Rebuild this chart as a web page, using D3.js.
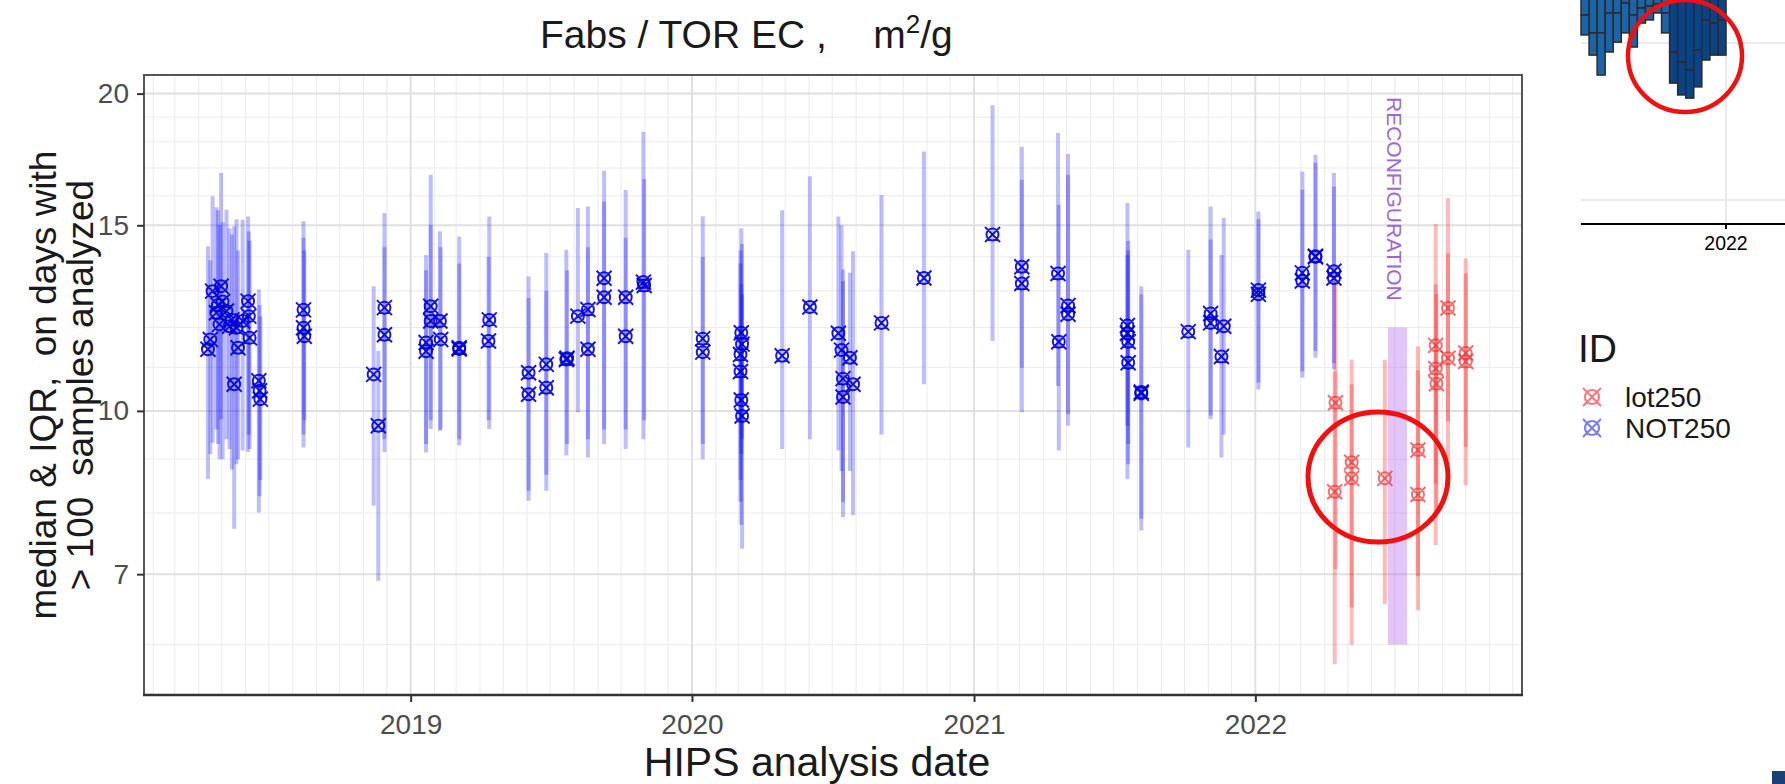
<!DOCTYPE html>
<html>
<head>
<meta charset="utf-8">
<script src="https://cdn.jsdelivr.net/npm/d3@7"></script>
<style>
  body { margin: 0; background: #fff; }
  text { font-family: "Liberation Sans", Arial, sans-serif; white-space: pre; }
</style>
</head>
<body>
<div id="chart"></div>
<script>
// NOT250 series: day, median, lower and upper quartile
var notDates = ["2018-04-13","2018-04-16","2018-04-19","2018-04-24","2018-04-26","2018-04-28","2018-04-30","2018-05-02",
  "2018-05-07","2018-05-11","2018-05-14","2018-05-17","2018-05-20","2018-05-22","2018-05-28","2018-06-04","2018-06-05",
  "2018-06-06","2018-06-18","2018-06-19","2018-06-20","2018-08-15","2018-08-15","2018-08-16","2018-11-14","2018-11-20",
  "2018-11-28","2018-11-28","2019-01-21","2019-01-21","2019-01-27","2019-01-27","2019-02-08","2019-02-09","2019-03-05",
  "2019-03-05","2019-04-13","2019-04-12","2019-06-03","2019-06-03","2019-06-26","2019-06-26","2019-07-22","2019-07-23",
  "2019-08-06","2019-08-19","2019-08-19","2019-09-09","2019-09-09","2019-10-07","2019-10-07","2019-10-30","2019-10-31",
  "2020-01-15","2020-01-15","2020-03-05","2020-03-06","2020-03-04","2020-03-04","2020-03-05","2020-03-06","2020-04-27",
  "2020-06-02","2020-07-09","2020-07-13","2020-07-15","2020-07-15","2020-07-24","2020-07-28","2020-09-03","2020-10-28",
  "2021-01-25","2021-03-04","2021-03-04","2021-04-20","2021-04-21","2021-05-03","2021-05-03","2021-07-19","2021-07-19",
  "2021-07-20","2021-07-20","2021-08-06","2021-08-06","2021-10-06","2021-11-04","2021-11-04","2021-11-18","2021-11-21",
  "2022-01-05","2022-01-05","2022-03-03","2022-03-03","2022-03-20","2022-03-20","2022-04-13","2022-04-13"];
var notMedian = [11.44,11.69,12.99,12.39,12.60,12.08,13.13,12.70,12.44,12.03,12.20,10.60,11.99,11.48,12.17,12.71,12.30,
  11.73,10.68,10.45,10.26,12.47,11.99,11.77,10.83,9.68,12.53,11.81,11.61,11.39,12.57,12.17,12.17,11.69,11.48,
  11.45,12.20,11.65,10.87,10.37,11.07,10.52,11.19,11.22,12.30,12.48,11.44,13.36,12.82,12.82,11.77,13.25,13.15,
  11.71,11.37,11.86,11.57,11.31,10.90,10.24,9.89,11.28,12.55,11.85,11.42,10.73,10.31,11.23,10.60,12.12,13.37,
  14.70,13.70,13.21,13.50,11.63,12.59,12.35,12.05,11.85,11.63,11.11,10.39,10.42,11.89,12.37,12.12,11.26,12.03,
  13.02,12.90,13.52,13.28,14.02,14.00,13.57,13.37];
var notLow = [8.62,9.10,9.33,9.60,9.30,9.00,9.82,9.00,9.40,9.20,8.80,7.73,8.90,9.00,9.17,9.14,9.50,
  9.20,8.01,8.30,8.60,9.23,9.50,9.80,8.13,6.90,9.14,9.40,9.13,9.30,9.61,9.80,9.57,9.60,9.27,
  9.40,9.61,9.80,8.22,8.40,8.40,8.70,9.07,9.30,9.97,9.03,9.40,9.60,9.30,9.60,9.20,9.40,9.80,
  9.00,9.30,9.10,9.40,8.60,8.20,7.80,7.40,9.20,9.40,9.17,8.77,7.93,8.19,8.77,7.96,9.50,10.60,
  11.65,9.97,10.99,10.56,9.17,9.93,9.68,8.62,9.68,9.30,8.90,7.70,7.90,9.23,9.82,9.90,9.03,9.50,
  10.48,10.64,10.75,10.90,11.23,11.40,10.95,11.10];
var notHigh = [14.33,13.90,15.98,15.60,15.50,15.00,16.82,15.10,15.52,14.90,14.70,14.96,15.20,14.20,15.18,15.29,14.80,
  14.50,13.04,12.60,12.30,15.13,14.60,14.20,13.13,11.40,15.41,14.30,14.06,13.60,16.75,15.00,14.81,14.30,14.64,
  13.80,15.29,14.00,13.42,12.80,14.12,13.00,14.22,13.60,15.58,15.63,14.30,16.90,15.80,16.20,14.60,18.40,16.60,
  15.30,14.00,14.90,14.40,14.20,13.80,13.20,12.90,15.50,16.70,15.29,15.00,13.62,13.28,13.52,14.17,16.03,17.62,
  19.50,17.81,16.57,18.35,15.69,16.75,17.53,15.75,14.06,14.50,14.20,13.13,12.90,14.22,15.63,14.54,14.06,15.24,
  15.46,15.20,16.87,16.21,17.50,17.20,16.82,16.33];

// lot250 series
var lotDates = ["2022-04-15","2022-04-14","2022-05-06","2022-05-06","2022-06-18","2022-07-31","2022-07-31",
  "2022-08-23","2022-08-23","2022-08-24","2022-09-08","2022-09-08","2022-10-01","2022-10-01"];
var lotMedian = [10.18,8.38,8.94,8.63,8.63,9.18,8.33,11.54,10.97,10.61,12.52,11.22,11.35,11.14];
var lotLow = [7.08,5.75,6.51,6.00,6.56,6.97,6.47,7.46,8.53,8.00,9.77,8.90,8.50,9.24];
var lotHigh = [13.30,10.90,11.18,10.60,11.18,11.52,10.93,15.04,13.19,12.90,15.92,14.10,13.95,13.50];

// reconfiguration period
var reconfigDates = ["2022-06-22", "2022-07-17"];
var reconfigRange = [6, 12];

// axis values
var yTicks = [7, 10, 15, 20];
var yMinorTicks = [6, 8, 9, 11, 12, 13, 14, 16, 17, 18, 19];
var xTickYears = ["2019", "2020", "2021", "2022"];
var xDomain = ["2018-01-20", "2022-12-13"];
var yDomain = [5.376, 20.83];

// pasted corner of the other chart (boxes hanging from the top)
var insetMid = [0.67,1.47,1.47,0.58,0.58,0.13,0.67,0.36,0.27,0.18,0.58,2.32,2.77,3.13,2.23,0.89,1.03,0.89];
var insetLow = [1.56,2.46,3.35,2.32,1.88,1.47,2.10,1.03,0.89,0.58,1.47,3.71,4.24,4.38,3.88,2.68,2.46,2.46];
var insetGrid = [1.92, 8.93];

var width = 1785, height = 784;
var panel = {left: 144, right: 1522, top: 75, bottom: 695};
var parseDate = d3.utcParse("%Y-%m-%d");

function makeRows(dates, med, lo, hi) {
  return dates.map(function(d, i) {
    return {date: parseDate(d), med: med[i], lo: lo[i], hi: hi[i]};
  });
}
var notRows = makeRows(notDates, notMedian, notLow, notHigh);
var lotRows = makeRows(lotDates, lotMedian, lotLow, lotHigh);

var svg = d3.select("#chart")
            .append("svg")
            .attr("width", width)
            .attr("height", height)
            .style("background", "#fff");

var xScale = d3.scaleUtc()
               .domain(xDomain.map(parseDate))
               .range([panel.left, panel.right]);

var yScale = d3.scaleLog()
               .domain(yDomain)
               .range([panel.bottom, panel.top]);

// minor grid: months and integer values
svg.append("g")
   .selectAll("line")
   .data(d3.utcMonth.range(xScale.domain()[0], xScale.domain()[1]))
   .enter()
   .append("line")
   .attr("x1", function(d) { return xScale(d); })
   .attr("x2", function(d) { return xScale(d); })
   .attr("y1", panel.top)
   .attr("y2", panel.bottom)
   .style("stroke", "#ebebeb")
   .style("stroke-width", 1);

svg.append("g")
   .selectAll("line")
   .data(yMinorTicks)
   .enter()
   .append("line")
   .attr("x1", panel.left)
   .attr("x2", panel.right)
   .attr("y1", function(d) { return yScale(d); })
   .attr("y2", function(d) { return yScale(d); })
   .style("stroke", "#ebebeb")
   .style("stroke-width", 1);

// major grid
var yearDates = xTickYears.map(function(y) { return parseDate(y + "-01-01"); });
svg.append("g")
   .selectAll("line")
   .data(yearDates)
   .enter()
   .append("line")
   .attr("x1", function(d) { return xScale(d); })
   .attr("x2", function(d) { return xScale(d); })
   .attr("y1", panel.top)
   .attr("y2", panel.bottom)
   .style("stroke", "#e0e0e0")
   .style("stroke-width", 2);

svg.append("g")
   .selectAll("line")
   .data(yTicks)
   .enter()
   .append("line")
   .attr("x1", panel.left)
   .attr("x2", panel.right)
   .attr("y1", function(d) { return yScale(d); })
   .attr("y2", function(d) { return yScale(d); })
   .style("stroke", "#e0e0e0")
   .style("stroke-width", 2);

// reconfiguration band
svg.append("rect")
   .attr("x", xScale(parseDate(reconfigDates[0])))
   .attr("width", xScale(parseDate(reconfigDates[1])) - xScale(parseDate(reconfigDates[0])))
   .attr("y", yScale(reconfigRange[1]))
   .attr("height", yScale(reconfigRange[0]) - yScale(reconfigRange[1]))
   .style("fill", "#b05ce8")
   .style("opacity", 0.35);

// error bars
function drawBars(rows, colour, alpha) {
  svg.append("g")
     .selectAll("line")
     .data(rows)
     .enter()
     .append("line")
     .attr("x1", function(d) { return xScale(d.date); })
     .attr("x2", function(d) { return xScale(d.date); })
     .attr("y1", function(d) { return yScale(d.lo); })
     .attr("y2", function(d) { return yScale(d.hi); })
     .style("stroke", colour)
     .style("stroke-opacity", alpha)
     .style("stroke-width", 4);
}
drawBars(notRows, "#0000ff", 0.26);
drawBars(lotRows, "#ff1a1a", 0.3);

// circle with cross
function crossCircle(r, h) {
  var p = d3.path();
  p.moveTo(r, 0);
  p.arc(0, 0, r, 0, 2 * Math.PI);
  p.moveTo(-h, -h);
  p.lineTo(h, h);
  p.moveTo(-h, h);
  p.lineTo(h, -h);
  return p.toString();
}

function drawPoints(rows, colour, alpha) {
  svg.append("g")
     .selectAll("path")
     .data(rows)
     .enter()
     .append("path")
     .attr("d", crossCircle(6, 7.5))
     .attr("transform", function(d) {
       return "translate(" + xScale(d.date) + "," + yScale(d.med) + ")";
     })
     .style("fill", "none")
     .style("stroke", colour)
     .style("stroke-opacity", alpha)
     .style("stroke-width", 2);
}
drawPoints(notRows, "#0000d8", 0.9);
drawPoints(lotRows, "#ea3434", 0.7);

// annotation text
var bandMid = new Date((parseDate(reconfigDates[0]).getTime() + parseDate(reconfigDates[1]).getTime()) / 2);
svg.append("text")
   .attr("transform", "translate(" + (xScale(bandMid) - 11) + "," + 97 + ") rotate(90)")
   .style("font-size", "21px")
   .style("fill", "#a066d8")
   .text("RECONFIGURATION");

// panel border
svg.append("rect")
   .attr("x", panel.left)
   .attr("y", panel.top)
   .attr("width", panel.right - panel.left)
   .attr("height", panel.bottom - panel.top)
   .style("fill", "none")
   .style("stroke", "#555")
   .style("stroke-width", 2);

svg.append("line")
   .attr("x1", panel.left - 1)
   .attr("x2", panel.right + 1)
   .attr("y1", panel.bottom)
   .attr("y2", panel.bottom)
   .style("stroke", "#333")
   .style("stroke-width", 2.5);

// axes
var xAxis = svg.append("g")
               .attr("transform", "translate(0," + panel.bottom + ")")
               .call(d3.axisBottom(xScale)
                       .tickValues(yearDates)
                       .tickFormat(d3.utcFormat("%Y"))
                       .tickSize(7)
                       .tickPadding(12));

var yAxis = svg.append("g")
               .attr("transform", "translate(" + panel.left + ",0)")
               .call(d3.axisLeft(yScale)
                       .tickValues(yTicks)
                       .tickFormat(d3.format("d"))
                       .tickSize(7)
                       .tickPadding(8));

[xAxis, yAxis].forEach(function(ax) {
  ax.select(".domain").remove();
  ax.selectAll(".tick line").style("stroke", "#333").style("stroke-width", 2);
  ax.selectAll(".tick text")
    .style("font-size", "28px")
    .style("fill", "#4d4d4d")
    .style("font-family", "Liberation Sans, Arial, sans-serif");
});

// titles
var title = svg.append("text")
               .attr("x", 540)
               .attr("y", 48)
               .style("font-size", "39px")
               .style("fill", "#1a1a1a");
title.append("tspan").text("Fabs / TOR EC ,   ");
title.append("tspan").attr("dx", 14).text("m");
title.append("tspan").attr("dy", -15).style("font-size", "26px").text("2");
title.append("tspan").attr("dy", 15).text("/g");

svg.append("text")
   .attr("x", (panel.left + panel.right) / 2 - 16)
   .attr("y", 776)
   .attr("text-anchor", "middle")
   .style("font-size", "41px")
   .style("fill", "#1a1a1a")
   .text("HIPS analysis date");

var yTitle = svg.append("text")
                .attr("transform", "translate(0," + (panel.top + panel.bottom) / 2 + ") rotate(-90)")
                .attr("text-anchor", "middle")
                .style("font-size", "37px")
                .style("fill", "#1a1a1a");
yTitle.append("tspan").attr("x", 0).attr("y", 56).text("median & IQR,  on days with");
yTitle.append("tspan").attr("x", 0).attr("y", 93).text("> 100  samples analyzed");

// legend
var legend = svg.append("g");
legend.append("text")
      .attr("x", 1578)
      .attr("y", 362)
      .style("font-size", "39px")
      .style("fill", "#1a1a1a")
      .text("ID");

var legendItems = [{label: "lot250", colour: "#ee2a2a"}, {label: "NOT250", colour: "#2a2af0"}];
legend.selectAll(".key")
      .data(legendItems)
      .enter()
      .append("path")
      .attr("class", "key")
      .attr("d", crossCircle(7, 9))
      .attr("transform", function(d, i) { return "translate(1592," + (397 + i * 31) + ")"; })
      .style("fill", "none")
      .style("stroke", function(d) { return d.colour; })
      .style("stroke-opacity", 0.6)
      .style("stroke-width", 2.2);

legend.selectAll(".label")
      .data(legendItems)
      .enter()
      .append("text")
      .attr("class", "label")
      .attr("x", 1625)
      .attr("y", function(d, i) { return 407 + i * 31; })
      .style("font-size", "28px")
      .style("fill", "#1a1a1a")
      .text(function(d) { return d.label; });

// highlight circle on the lot250 dip
svg.append("ellipse")
   .attr("cx", 1378)
   .attr("cy", 477)
   .attr("rx", 70)
   .attr("ry", 65)
   .style("fill", "none")
   .style("stroke", "#f01010")
   .style("stroke-width", 5);

// inset cut from another chart
var insetX = d3.scaleLinear().domain([0, 18]).range([1581, 1726]);
var insetY = d3.scaleLinear().domain([0, 10]).range([0, 224]);
var inset = svg.append("g");

inset.selectAll(".igrid")
     .data(insetGrid)
     .enter()
     .append("line")
     .attr("x1", insetX(0))
     .attr("x2", width)
     .attr("y1", function(d) { return insetY(d); })
     .attr("y2", function(d) { return insetY(d); })
     .style("stroke", "#ebebeb")
     .style("stroke-width", 2);

inset.append("line")
     .attr("x1", insetX(18))
     .attr("x2", insetX(18))
     .attr("y1", 0)
     .attr("y2", insetY(10))
     .style("stroke", "#ebebeb")
     .style("stroke-width", 2);

insetLow.forEach(function(v, i) {
  var fill = i < 11 ? "#1b64aa" : "#0d4383";
  inset.append("rect")
       .attr("x", insetX(i))
       .attr("y", -3)
       .attr("width", insetX(1) - insetX(0))
       .attr("height", insetY(insetMid[i]) + 3)
       .style("fill", fill)
       .style("stroke", "#2b2b2b")
       .style("stroke-width", 1.5);
  inset.append("rect")
       .attr("x", insetX(i))
       .attr("y", insetY(insetMid[i]))
       .attr("width", insetX(1) - insetX(0))
       .attr("height", insetY(v) - insetY(insetMid[i]))
       .style("fill", fill)
       .style("stroke", "#2b2b2b")
       .style("stroke-width", 1.5);
});

inset.append("line")
     .attr("x1", insetX(0))
     .attr("x2", width)
     .attr("y1", insetY(10))
     .attr("y2", insetY(10))
     .style("stroke", "#000")
     .style("stroke-width", 2);

inset.append("line")
     .attr("x1", insetX(18))
     .attr("x2", insetX(18))
     .attr("y1", insetY(10))
     .attr("y2", insetY(10) + 5)
     .style("stroke", "#000")
     .style("stroke-width", 2);

inset.append("text")
     .attr("x", insetX(18))
     .attr("y", 250)
     .attr("text-anchor", "middle")
     .style("font-size", "19.5px")
     .style("fill", "#000")
     .text("2022");

svg.append("ellipse")
   .attr("cx", 1685)
   .attr("cy", 56)
   .attr("rx", 57)
   .attr("ry", 56)
   .style("fill", "none")
   .style("stroke", "#f01010")
   .style("stroke-width", 4.5);

// corner square
svg.append("rect")
   .attr("x", 1772)
   .attr("y", 771)
   .attr("width", 13)
   .attr("height", 13)
   .style("fill", "#1c3f7a");
</script>
</body>
</html>
